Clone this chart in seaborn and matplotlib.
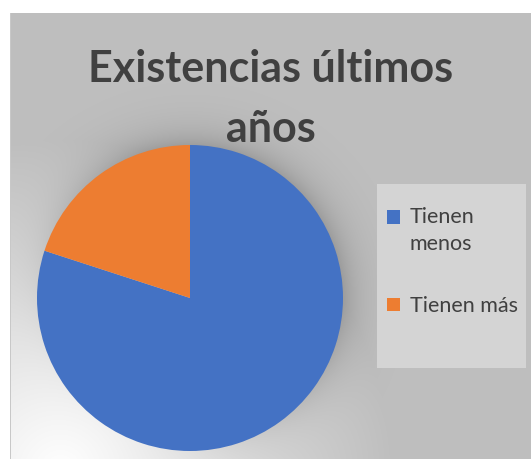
import matplotlib
matplotlib.use("Agg")
import matplotlib.pyplot as plt
import numpy as np
import seaborn as sns
from matplotlib.patches import Rectangle
from matplotlib.legend_handler import HandlerPatch

# data
labels = ["Tienen\nmenos", "Tienen más"]
values = [80, 20]
colors = ["#4472C4", "#ED7D31"]
title = "Existencias últimos\naños"

sns.set_theme(style="white")
plt.rcParams["font.family"] = ["Lato", "DejaVu Sans"]

W, H = 531, 459
fig = plt.figure(figsize=(W / 100, H / 100), dpi=100)
fig.patch.set_facecolor("white")

# chart area background: grey with a white glow bottom-left and a soft shadow around the pie
cx0, cy0 = 10, 13
aw, ah = W - cx0, H - cy0
yy, xx = np.mgrid[0:ah, 0:aw].astype(float)
px, py = xx + cx0, yy + cy0
d_glow = np.hypot(px - 60, py - 470)
w = np.clip(1 - d_glow / 330, 0, 1)
base = 191 + (255 - 191) * w
d_pie = np.hypot(px - 190, py - 298)
shadow = np.where(d_pie >= 150, 40 * np.exp(-(d_pie - 150) / 18), 40)
img = np.clip(base - shadow * (1 - w) ** 2, 0, 255) / 255
bg = fig.add_axes([cx0 / W, 0, aw / W, ah / H])
bg.imshow(np.dstack([img] * 3), aspect="auto", interpolation="bilinear")
bg.axis("off")
bg.add_patch(Rectangle((-0.5, -0.5), 1.2, ah, color="#c8c8c8", lw=0))

# pie
r = 153
ax = fig.add_axes([(190 - r) / W, (H - 298 - r) / H, 2 * r / W, 2 * r / H])
ax.pie(values, colors=colors, startangle=90, counterclock=False, radius=1,
       wedgeprops=dict(linewidth=0))
ax.set_xlim(-1, 1)
ax.set_ylim(-1, 1)
ax.set_aspect("equal")
ax.axis("off")

# title
fig.text(271 / W, 1 - 99 / H, title, ha="center", va="center", fontsize=31,
         fontweight="bold", color="#404040", linespacing=1.62)

# legend box
fig.patches.append(Rectangle((377 / W, (H - 368) / H), 149 / W, 184 / H,
                             transform=fig.transFigure, color="#d4d4d4", lw=0, zorder=0))


def top_line_square(legend, orig_handle, xdescent, ydescent, width, height, fontsize):
    return Rectangle((-xdescent, -ydescent + 10), width, height)


handles = [Rectangle((0, 0), 1, 1, color=c, lw=0) for c in colors]
leg = fig.legend(handles, labels, loc="upper left",
                 bbox_to_anchor=(387 / W, 1 - 207 / H), frameon=False,
                 borderpad=0, borderaxespad=0,
                 fontsize=15.5, handlelength=0.6, handleheight=0.6,
                 handletextpad=0.45, labelspacing=1.95, labelcolor="#404040",
                 handler_map={handles[0]: HandlerPatch(patch_func=top_line_square)})
for t in leg.get_texts():
    t.set_linespacing(1.45)

fig.savefig("out.png", dpi=100)
